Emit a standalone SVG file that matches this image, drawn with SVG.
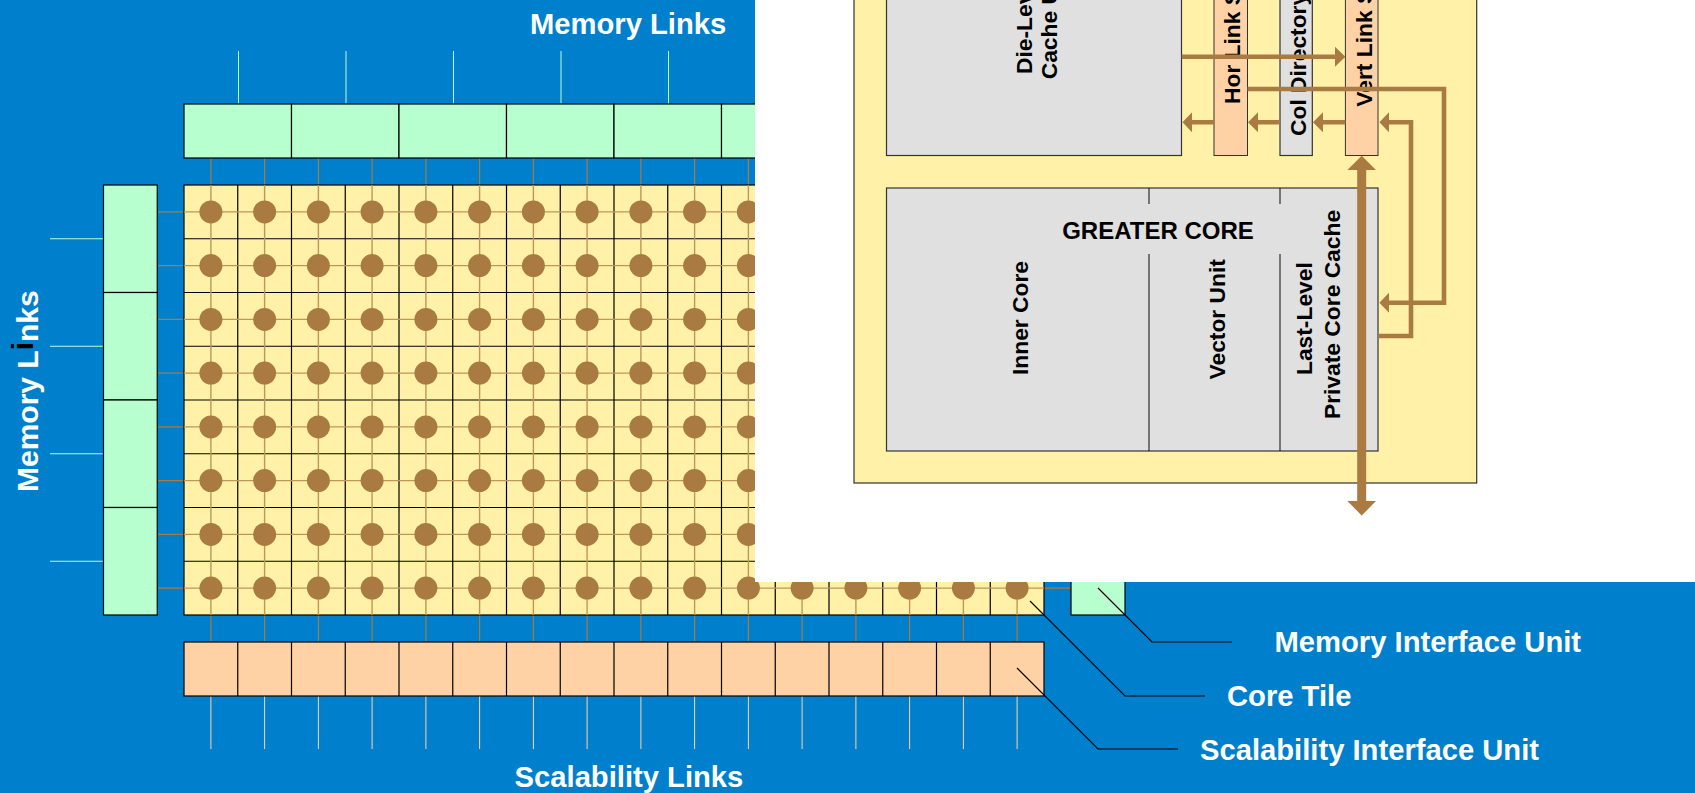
<svg xmlns="http://www.w3.org/2000/svg" width="1695" height="793" viewBox="0 0 1695 793">
<style>
text{font-family:"Liberation Sans",Arial,sans-serif;font-weight:bold}
.w{fill:#fff;font-size:29.2px}
.k{fill:#000;font-size:22.8px}
.c{stroke:#000;stroke-width:1.2}
.g{fill:#B8FFD0}.y{fill:#FFF2A8}.o{fill:#FFD2A6}.s{fill:#E0E0E0;stroke:#333;stroke-width:1.2}
.t{stroke:#A97A42;stroke-width:1.2;fill:none}
.x{stroke:#BE9658;stroke-width:1.4;fill:none}
.u{stroke:#B8FFD0;stroke-width:1;fill:none}
.v{stroke:#FFD2A6;stroke-width:1;fill:none}
.b{stroke:#A97A42;stroke-width:4.6;fill:none}
.h{fill:#A97A42}
.l{stroke:#000;stroke-width:1.2;fill:none}
</style>
<rect width="1695" height="793" fill="#0080CC"/>
<g id="connectors">
<path class="u" d="M238.500 51V104M346 51V104M453.500 51V104M561 51V104M668.500 51V104M50 238.750H103.500M50 346.250H103.500M50 453.750H103.500M50 561.250H103.500"/>
<path class="v" d="M210.900 696V749M264.600 696V749M318.400 696V749M372.100 696V749M425.900 696V749M479.600 696V749M533.400 696V749M587.100 696V749M640.900 696V749M694.600 696V749M748.400 696V749M802.100 696V749M855.900 696V749M909.600 696V749M963.400 696V749M1017.100 696V749"/>
<path class="t" d="M210.900 158V642M264.600 158V642M318.400 158V642M372.100 158V642M425.900 158V642M479.600 158V642M533.400 158V642M587.100 158V642M640.900 158V642M694.600 158V642M748.400 158V642M802.100 158V642M855.900 158V642M909.600 158V642M963.400 158V642M1017.100 158V642"/>
<path class="t" d="M157 211.900H1071M157 265.600H1071M157 319.400H1071M157 373.100H1071M157 426.900H1071M157 480.600H1071M157 534.400H1071M157 588.100H1071"/>
</g>
<g id="memory-top" class="c">
<rect class="g" x="184" y="104" width="107.500" height="54"/><rect class="g" x="291.500" y="104" width="107.500" height="54"/><rect class="g" x="399" y="104" width="107.500" height="54"/><rect class="g" x="506.500" y="104" width="107.500" height="54"/><rect class="g" x="614" y="104" width="107.500" height="54"/><rect class="g" x="721.500" y="104" width="107.500" height="54"/>
</g>
<g id="memory-left" class="c">
<rect class="g" x="103.500" y="185" width="53.750" height="107.500"/><rect class="g" x="103.500" y="292.500" width="53.750" height="107.500"/><rect class="g" x="103.500" y="400" width="53.750" height="107.500"/><rect class="g" x="103.500" y="507.500" width="53.750" height="107.500"/>
</g>
<g id="memory-right" class="c"><rect class="g" x="1071" y="507.500" width="54" height="107.500"/></g>
<g id="core-grid" class="c" fill="none">
<rect class="y" x="184" y="185" width="860" height="430"/>
<path d="M237.750 185V615M291.500 185V615M345.250 185V615M399 185V615M452.750 185V615M506.500 185V615M560.250 185V615M614 185V615M667.750 185V615M721.500 185V615M775.250 185V615M829 185V615M882.750 185V615M936.500 185V615M990.250 185V615M184 238.750H1044M184 292.500H1044M184 346.250H1044M184 400H1044M184 453.750H1044M184 507.500H1044M184 561.250H1044"/>
</g>
<g id="grid-lines-over">
<path class="x" d="M210.900 185V615M264.600 185V615M318.400 185V615M372.100 185V615M425.900 185V615M479.600 185V615M533.400 185V615M587.100 185V615M640.900 185V615M694.600 185V615M748.400 185V615M802.100 185V615M855.900 185V615M909.600 185V615M963.400 185V615M1017.100 185V615"/>
<path class="x" d="M184 211.900H1044M184 265.600H1044M184 319.400H1044M184 373.100H1044M184 426.900H1044M184 480.600H1044M184 534.400H1044M184 588.100H1044"/>
</g>
<g id="core-nodes" class="h">
<circle cx="210.900" cy="211.900" r="11.500"/><circle cx="264.600" cy="211.900" r="11.500"/><circle cx="318.400" cy="211.900" r="11.500"/><circle cx="372.100" cy="211.900" r="11.500"/><circle cx="425.900" cy="211.900" r="11.500"/><circle cx="479.600" cy="211.900" r="11.500"/><circle cx="533.400" cy="211.900" r="11.500"/><circle cx="587.100" cy="211.900" r="11.500"/><circle cx="640.900" cy="211.900" r="11.500"/><circle cx="694.600" cy="211.900" r="11.500"/><circle cx="748.400" cy="211.900" r="11.500"/>
<circle cx="210.900" cy="265.600" r="11.500"/><circle cx="264.600" cy="265.600" r="11.500"/><circle cx="318.400" cy="265.600" r="11.500"/><circle cx="372.100" cy="265.600" r="11.500"/><circle cx="425.900" cy="265.600" r="11.500"/><circle cx="479.600" cy="265.600" r="11.500"/><circle cx="533.400" cy="265.600" r="11.500"/><circle cx="587.100" cy="265.600" r="11.500"/><circle cx="640.900" cy="265.600" r="11.500"/><circle cx="694.600" cy="265.600" r="11.500"/><circle cx="748.400" cy="265.600" r="11.500"/>
<circle cx="210.900" cy="319.400" r="11.500"/><circle cx="264.600" cy="319.400" r="11.500"/><circle cx="318.400" cy="319.400" r="11.500"/><circle cx="372.100" cy="319.400" r="11.500"/><circle cx="425.900" cy="319.400" r="11.500"/><circle cx="479.600" cy="319.400" r="11.500"/><circle cx="533.400" cy="319.400" r="11.500"/><circle cx="587.100" cy="319.400" r="11.500"/><circle cx="640.900" cy="319.400" r="11.500"/><circle cx="694.600" cy="319.400" r="11.500"/><circle cx="748.400" cy="319.400" r="11.500"/>
<circle cx="210.900" cy="373.100" r="11.500"/><circle cx="264.600" cy="373.100" r="11.500"/><circle cx="318.400" cy="373.100" r="11.500"/><circle cx="372.100" cy="373.100" r="11.500"/><circle cx="425.900" cy="373.100" r="11.500"/><circle cx="479.600" cy="373.100" r="11.500"/><circle cx="533.400" cy="373.100" r="11.500"/><circle cx="587.100" cy="373.100" r="11.500"/><circle cx="640.900" cy="373.100" r="11.500"/><circle cx="694.600" cy="373.100" r="11.500"/><circle cx="748.400" cy="373.100" r="11.500"/>
<circle cx="210.900" cy="426.900" r="11.500"/><circle cx="264.600" cy="426.900" r="11.500"/><circle cx="318.400" cy="426.900" r="11.500"/><circle cx="372.100" cy="426.900" r="11.500"/><circle cx="425.900" cy="426.900" r="11.500"/><circle cx="479.600" cy="426.900" r="11.500"/><circle cx="533.400" cy="426.900" r="11.500"/><circle cx="587.100" cy="426.900" r="11.500"/><circle cx="640.900" cy="426.900" r="11.500"/><circle cx="694.600" cy="426.900" r="11.500"/><circle cx="748.400" cy="426.900" r="11.500"/>
<circle cx="210.900" cy="480.600" r="11.500"/><circle cx="264.600" cy="480.600" r="11.500"/><circle cx="318.400" cy="480.600" r="11.500"/><circle cx="372.100" cy="480.600" r="11.500"/><circle cx="425.900" cy="480.600" r="11.500"/><circle cx="479.600" cy="480.600" r="11.500"/><circle cx="533.400" cy="480.600" r="11.500"/><circle cx="587.100" cy="480.600" r="11.500"/><circle cx="640.900" cy="480.600" r="11.500"/><circle cx="694.600" cy="480.600" r="11.500"/><circle cx="748.400" cy="480.600" r="11.500"/>
<circle cx="210.900" cy="534.400" r="11.500"/><circle cx="264.600" cy="534.400" r="11.500"/><circle cx="318.400" cy="534.400" r="11.500"/><circle cx="372.100" cy="534.400" r="11.500"/><circle cx="425.900" cy="534.400" r="11.500"/><circle cx="479.600" cy="534.400" r="11.500"/><circle cx="533.400" cy="534.400" r="11.500"/><circle cx="587.100" cy="534.400" r="11.500"/><circle cx="640.900" cy="534.400" r="11.500"/><circle cx="694.600" cy="534.400" r="11.500"/><circle cx="748.400" cy="534.400" r="11.500"/>
<circle cx="210.900" cy="588.100" r="11.500"/><circle cx="264.600" cy="588.100" r="11.500"/><circle cx="318.400" cy="588.100" r="11.500"/><circle cx="372.100" cy="588.100" r="11.500"/><circle cx="425.900" cy="588.100" r="11.500"/><circle cx="479.600" cy="588.100" r="11.500"/><circle cx="533.400" cy="588.100" r="11.500"/><circle cx="587.100" cy="588.100" r="11.500"/><circle cx="640.900" cy="588.100" r="11.500"/><circle cx="694.600" cy="588.100" r="11.500"/><circle cx="748.400" cy="588.100" r="11.500"/><circle cx="802.100" cy="588.100" r="11.500"/><circle cx="855.900" cy="588.100" r="11.500"/><circle cx="909.600" cy="588.100" r="11.500"/><circle cx="963.400" cy="588.100" r="11.500"/><circle cx="1017.100" cy="588.100" r="11.500"/>
</g>
<g id="scalability" class="c">
<rect class="o" x="184" y="642" width="860" height="54"/>
<path fill="none" d="M237.750 642V696M291.500 642V696M345.250 642V696M399 642V696M452.750 642V696M506.500 642V696M560.250 642V696M614 642V696M667.750 642V696M721.500 642V696M775.250 642V696M829 642V696M882.750 642V696M936.500 642V696M990.250 642V696"/>
</g>
<g id="leaders">
<path class="l" d="M1098 588L1152 642H1232"/>
<path class="l" d="M1030 601L1125 696H1205"/>
<path class="l" d="M1017 668L1098 749H1178"/>
</g>
<g id="labels">
<text class="w" x="530" y="33.500">Memory Links</text>
<text class="w" x="514.600" y="787">Scalability Links</text>
<text class="w" style="font-size:30px" transform="translate(37.700 492) rotate(-90)">Memory L<tspan fill="#000" dy="-4.400">i</tspan><tspan dy="4.400">nks</tspan></text>
<text class="w" x="1274.500" y="652">Memory Interface Unit</text>
<text class="w" x="1227" y="705.500">Core Tile</text>
<text class="w" x="1200" y="760">Scalability Interface Unit</text>
</g>
<rect id="inset-panel" x="755" y="0" width="940" height="582" fill="#fff"/>
<g id="tile-panel"><rect class="y" x="854" y="-40" width="622.700" height="523" stroke="#333" stroke-width="1.200"/></g>
<g id="die-cache">
<rect class="s" x="886.500" y="-40" width="295" height="195.500"/>
<text class="k" transform="translate(1032.400 74) rotate(-90)">Die-Lev</text>
<text class="k" transform="translate(1057.300 79.300) rotate(-90)">Cache U</text>
</g>
<g id="hor-link">
<rect class="o" x="1214" y="-40" width="33.500" height="195.500" stroke="#333"/>
<text class="k" transform="translate(1240.300 104) rotate(-90)">Hor Link S</text>
</g>
<g id="col-directory">
<rect class="s" x="1280" y="-40" width="32.300" height="195.500"/>
<text class="k" transform="translate(1306 136) rotate(-90)">Col Directory</text>
</g>
<g id="vert-link">
<rect class="o" x="1345.400" y="-40" width="32.600" height="195.500" stroke="#333"/>
<text class="k" transform="translate(1372.400 106.700) rotate(-90)">Vert Link S</text>
</g>
<g id="greater-core">
<rect class="s" x="886.500" y="188" width="491.500" height="263"/>
<path class="l" stroke-opacity=".8" d="M1149 188V204M1280 188V204M1149 254V451M1280 254V451"/>
<text class="k" x="1158" y="239" text-anchor="middle" style="font-size:24px">GREATER CORE</text>
<text class="k" transform="translate(1028.300 375) rotate(-90)">Inner Core</text>
<text class="k" transform="translate(1225 379.500) rotate(-90)">Vector Unit</text>
<text class="k" transform="translate(1312.300 375) rotate(-90)">Last-Level</text>
<text class="k" transform="translate(1340 419) rotate(-90)">Private Core Cache</text>
</g>
<g id="tile-connectors">
<path class="b" d="M1181.700 56.700H1338M1214 122.300H1192M1280 122.300H1258M1345.400 122.300H1323M1378.600 336H1411V122.300H1389M1247.600 89H1444V302.700H1389"/>
<path class="h" d="M1345.400 56.700L1335 46.700V66.700ZM1182.500 122.300L1192 112.300V132.300ZM1248 122.300L1258 112.300V132.300ZM1313 122.300L1323 112.300V132.300ZM1379.400 122.300L1389 112.300V132.300ZM1379.400 302.700L1389 292.700V312.700Z"/>
<path class="h" d="M1357.200 170H1366.200V501H1357.200Z"/>
<path class="h" d="M1361.700 155.700L1376 170H1347.400ZM1361.700 515.500L1376 501H1347.400Z"/>
</g>
</svg>
